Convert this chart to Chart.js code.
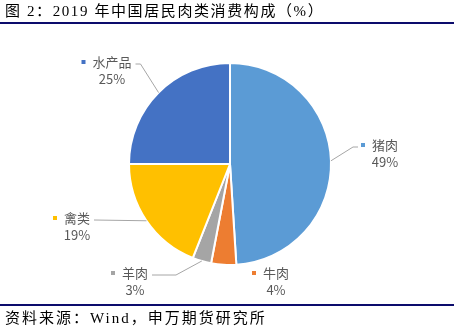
<!DOCTYPE html>
<html>
<head>
<meta charset="utf-8">
<script src="https://cdn.jsdelivr.net/npm/chart.js@4.4.1/dist/chart.umd.min.js"></script>
<style>
  html, body { margin: 0; padding: 0; background: #ffffff; }
  #wrap { position: relative; width: 454px; height: 329px; overflow: hidden; }
  #chart { position: absolute; left: 0; top: 0; }
  .cap {
    position: absolute; left: 5px; white-space: nowrap; color: #000;
    font-family: "Liberation Serif", "Noto Sans CJK SC", serif;
    font-size: 15px; letter-spacing: 2px; line-height: 1;
  }
  #title { top: 4px; letter-spacing: 1.6px; }
  #source { top: 311px; }
  .rule { position: absolute; left: 0; width: 454px; background: #0c0c6c; }
  #rule-top { top: 22px; height: 2px; }
  #rule-bottom { top: 304px; height: 2px; }
</style>
</head>
<body>
<div id="wrap">
  <canvas id="chart" width="454" height="329"></canvas>
  <div id="title" class="cap">图 2：2019 年中国居民肉类消费构成（%）</div>
  <div id="rule-top" class="rule"></div>
  <div id="rule-bottom" class="rule"></div>
  <div id="source" class="cap">资料来源：Wind，申万期货研究所</div>
</div>
<script>
// Meat consumption composition, 2019 (%)
const categories = ['猪肉', '牛肉', '羊肉', '禽类', '水产品'];
const shares = [49, 4, 3, 19, 25];
const sliceColors = ['#5B9BD5', '#ED7D31', '#A5A5A5', '#FFC000', '#4472C4'];

// Label placement relative to the pie centre (text centre x, name-line y),
// plus the length of the horizontal run of each leader line.
const labelLayout = [
  { dx: 155, dy: -19, side: 'right', run: 5, leader: true },
  { dx: 46,  dy: 109, side: 'right', run: 0, leader: false },
  { dx: -95, dy: 109, side: 'left',  run: 24, leader: true },
  { dx: -153, dy: 54, side: 'left',  run: 0, leader: true },
  { dx: -118, dy: -102, side: 'left', run: 5, leader: true }
];

const labelFont = '13px "Noto Sans CJK SC", "Microsoft YaHei", sans-serif';

const pieLabels = {
  id: 'pieLabels',
  afterDatasetsDraw(chart) {
    const ctx = chart.ctx;
    const meta = chart.getDatasetMeta(0);
    ctx.save();
    ctx.font = labelFont;
    meta.data.forEach((arc, i) => {
      const cfg = labelLayout[i];
      const cx = arc.x, cy = arc.y;
      const tx = cx + cfg.dx, ty = cy + cfg.dy;
      const name = categories[i];
      const pct = shares[i] + '%';
      const nameW = ctx.measureText(name).width;

      // leader line from the slice edge to the label
      if (cfg.leader) {
        const mid = (arc.startAngle + arc.endAngle) / 2;
        const r = arc.outerRadius;
        const sx = cx + Math.cos(mid) * r;
        const sy = cy + Math.sin(mid) * r;
        let ex;
        if (cfg.side === 'left') ex = tx + nameW / 2 + 4;
        else ex = tx - nameW / 2 - 14;
        const ey = ty + 2;
        const kx = cfg.side === 'left' ? ex + cfg.run : ex - cfg.run;
        ctx.strokeStyle = '#A6A6A6';
        ctx.lineWidth = 1;
        ctx.beginPath();
        ctx.moveTo(sx, sy);
        ctx.lineTo(kx, ey);
        ctx.lineTo(ex, ey);
        ctx.stroke();
      }

      // legend key square
      ctx.fillStyle = sliceColors[i];
      ctx.fillRect(tx - nameW / 2 - 11, ty - 2, 4, 4);

      // category name and share
      ctx.fillStyle = '#595959';
      ctx.textAlign = 'center';
      ctx.textBaseline = 'middle';
      ctx.fillText(name, tx, ty);
      ctx.fillText(pct, tx, ty + 17);
    });
    ctx.restore();
  }
};

new Chart(document.getElementById('chart'), {
  type: 'pie',
  data: {
    labels: categories,
    datasets: [{
      data: shares,
      backgroundColor: sliceColors,
      borderColor: '#ffffff',
      borderWidth: 2
    }]
  },
  options: {
    responsive: false,
    animation: false,
    layout: { padding: { left: 128, right: 122, top: 62, bottom: 63 } },
    plugins: {
      legend: { display: false },
      tooltip: { enabled: false }
    }
  },
  plugins: [pieLabels]
});
</script>
</body>
</html>
